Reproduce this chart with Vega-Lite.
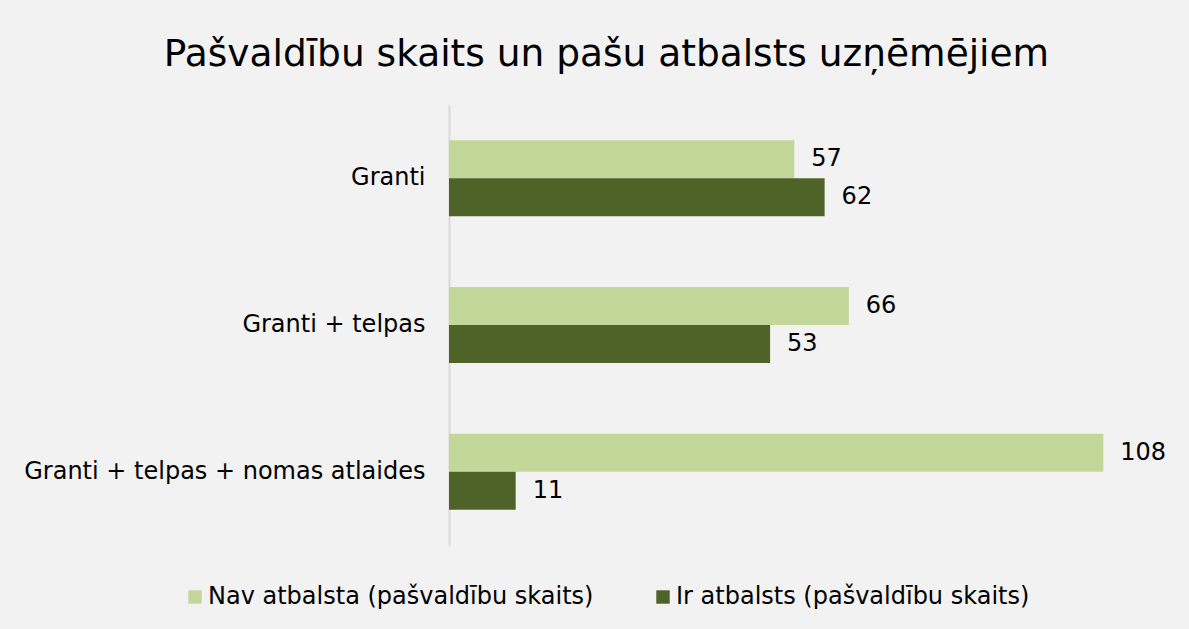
{
  "$schema": "https://vega.github.io/schema/vega-lite/v6.json",
  "autosize": {"type": "none"},
  "width": 727,
  "height": 440,
  "padding": {"left": 449, "top": 105, "right": 13, "bottom": 84},
  "background": "#f2f2f2",
  "title": {
    "text": "Pašvaldību skaits un pašu atbalsts uzņēmējiem",
    "font": "DejaVu Sans",
    "fontSize": 37.5,
    "fontWeight": "normal",
    "color": "#000000",
    "anchor": "middle",
    "frame": "group",
    "dx": -206,
    "offset": 32
  },
  "data": {
    "values": [
      {"kategorija": "Granti", "serija": "Nav atbalsta (pašvaldību skaits)", "skaits": 57},
      {"kategorija": "Granti", "serija": "Ir atbalsts (pašvaldību skaits)", "skaits": 62},
      {"kategorija": "Granti + telpas", "serija": "Nav atbalsta (pašvaldību skaits)", "skaits": 66},
      {"kategorija": "Granti + telpas", "serija": "Ir atbalsts (pašvaldību skaits)", "skaits": 53},
      {"kategorija": "Granti + telpas + nomas atlaides", "serija": "Nav atbalsta (pašvaldību skaits)", "skaits": 108},
      {"kategorija": "Granti + telpas + nomas atlaides", "serija": "Ir atbalsts (pašvaldību skaits)", "skaits": 11}
    ]
  },
  "encoding": {
    "y": {
      "field": "kategorija",
      "type": "nominal",
      "sort": ["Granti", "Granti + telpas", "Granti + telpas + nomas atlaides"],
      "scale": {"paddingInner": 0, "paddingOuter": 0},
      "axis": {
        "title": null,
        "ticks": false,
        "domainColor": "#d9d9d9",
        "domainWidth": 2,
        "labelFont": "DejaVu Sans",
        "labelFontSize": 24,
        "labelColor": "#000000",
        "labelPadding": 24,
        "labelLimit": 500
      }
    },
    "yOffset": {
      "field": "serija",
      "type": "nominal",
      "sort": ["Nav atbalsta (pašvaldību skaits)", "Ir atbalsts (pašvaldību skaits)"],
      "scale": {"paddingInner": 0, "paddingOuter": 0.93}
    },
    "x": {
      "field": "skaits",
      "type": "quantitative",
      "scale": {"domain": [0, 120], "nice": false},
      "axis": null
    }
  },
  "layer": [
    {
      "mark": {"type": "bar"},
      "encoding": {
        "color": {
          "field": "serija",
          "type": "nominal",
          "sort": ["Nav atbalsta (pašvaldību skaits)", "Ir atbalsts (pašvaldību skaits)"],
          "scale": {
            "domain": ["Nav atbalsta (pašvaldību skaits)", "Ir atbalsts (pašvaldību skaits)"],
            "range": ["#c4d79b", "#4f6228"]
          },
          "legend": {
            "title": null,
            "orient": "none",
            "direction": "horizontal",
            "legendX": -266,
            "legendY": 480,
            "symbolType": "square",
            "symbolSize": 180,
            "symbolStrokeWidth": 0,
            "labelFont": "DejaVu Sans",
            "labelFontSize": 24,
            "labelColor": "#000000",
            "labelOffset": 1,
            "columnPadding": 57,
            "labelLimit": 600
          }
        }
      }
    },
    {
      "mark": {"type": "text", "align": "left", "baseline": "middle", "dx": 17, "font": "DejaVu Sans", "fontSize": 24, "color": "#000000"},
      "encoding": {
        "text": {"field": "skaits", "type": "quantitative"}
      }
    }
  ],
  "config": {
    "view": {"stroke": null}
  }
}
